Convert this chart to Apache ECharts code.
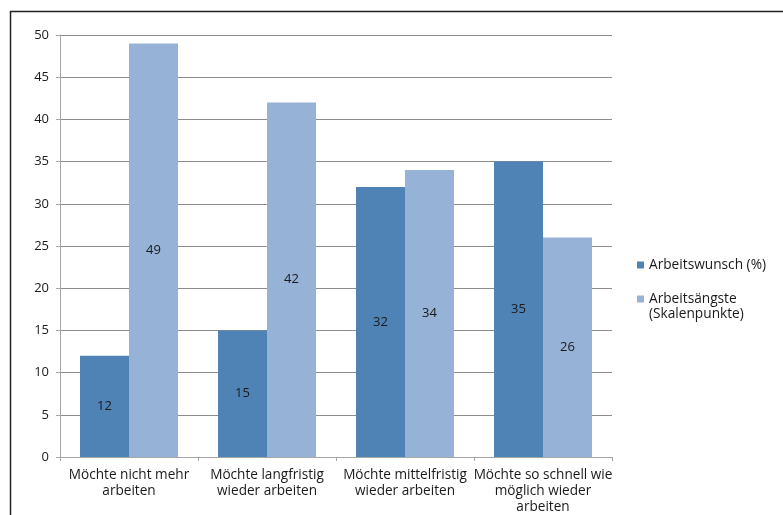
<!DOCTYPE html>
<html>
<head>
<meta charset="utf-8">
<script src="https://cdn.jsdelivr.net/npm/echarts@6/dist/echarts.min.js"></script>
<style>
  html, body { margin: 0; padding: 0; background: #fff; }
  #chart { width: 783px; height: 515px; }
</style>
</head>
<body>
<div id="chart"></div>
<script>
// Categories (wrapped as printed under the axis)
const categories = [
  'Möchte nicht mehr\narbeiten',
  'Möchte langfristig\nwieder arbeiten',
  'Möchte mittelfristig\nwieder arbeiten',
  'Möchte so schnell wie\nmöglich wieder\narbeiten'
];
const wishValues = [12, 15, 32, 35];     // Arbeitswunsch (%)
const fearValues = [49, 42, 34, 26];     // Arbeitsängste (Skalenpunkte)
const seriesNames = ['Arbeitswunsch (%)', 'Arbeitsängste\n(Skalenpunkte)'];
const yTicks = [0, 5, 10, 15, 20, 25, 30, 35, 40, 45, 50];

const font = '"Open Sans", "Noto Sans", sans-serif';
const chart = echarts.init(document.getElementById('chart'), null, { renderer: 'canvas' });

const barLabel = {
  show: true,
  position: 'inside',
  color: '#1a1a1a',
  fontFamily: font,
  fontSize: 13
};

// Legend markers: a 7x7 square inside a 7x22 box. The first sits in the
// middle, the second at the top so it lines up with the first text line.
const markerMid = 'path://M0,0L0,0M0,7.5L7,7.5L7,14.5L0,14.5ZM7,22L7,22';
const markerTop = 'path://M0,0L7,0L7,7L0,7ZM7,22L7,22';

chart.setOption({
  animation: false,
  textStyle: { fontFamily: font },
  graphic: [
    // outer frame (top and left edges)
    { type: 'line', shape: { x1: 10, y1: 11.5, x2: 783, y2: 11.5 }, style: { stroke: '#222', lineWidth: 1.5 } },
    { type: 'line', shape: { x1: 10.5, y1: 11, x2: 10.5, y2: 515 }, style: { stroke: '#222', lineWidth: 1.5 } }
  ],
  grid: { left: 60, right: 171, top: 35, bottom: 58, containLabel: false },
  legend: {
    orient: 'vertical',
    left: 632,
    top: 249,
    itemWidth: 7,
    itemHeight: 22,
    itemGap: 15.5,
    symbolKeepAspect: false,
    textStyle: { fontFamily: font, fontSize: 13.7, color: '#1a1a1a', lineHeight: 15 },
    data: [
      { name: seriesNames[0], icon: markerMid },
      { name: seriesNames[1], icon: markerTop }
    ]
  },
  xAxis: {
    type: 'category',
    data: categories,
    axisLine: { lineStyle: { color: '#a6a6a6', width: 1 } },
    axisTick: { show: true, length: 4, lineStyle: { color: '#a6a6a6' } },
    axisLabel: {
      fontFamily: font,
      fontSize: 13.6,
      color: '#1a1a1a',
      lineHeight: 16,
      margin: 10,
      interval: 0
    }
  },
  yAxis: {
    type: 'value',
    min: yTicks[0],
    max: yTicks[yTicks.length - 1],
    interval: 5,
    axisLine: { show: true, lineStyle: { color: '#a6a6a6' } },
    axisTick: { show: true, length: 4, lineStyle: { color: '#a6a6a6' } },
    axisLabel: { fontFamily: font, fontSize: 13, color: '#1a1a1a', margin: 11 },
    splitLine: { lineStyle: { color: '#8c8c8c', width: 1 } }
  },
  series: [
    {
      name: seriesNames[0],
      type: 'bar',
      data: wishValues,
      barGap: '0%',
      barCategoryGap: '29%',
      itemStyle: { color: '#5083b5' },
      label: barLabel
    },
    {
      name: seriesNames[1],
      type: 'bar',
      data: fearValues,
      barGap: '0%',
      barCategoryGap: '29%',
      itemStyle: { color: '#96b2d7' },
      label: barLabel
    }
  ]
});
</script>
</body>
</html>
